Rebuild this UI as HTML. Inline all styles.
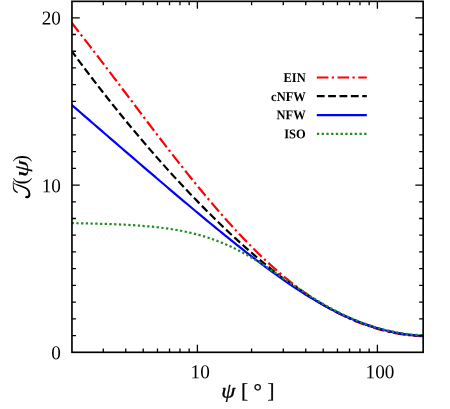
<!DOCTYPE html>
<html><head><meta charset="utf-8"><title>J(psi)</title>
<style>
html,body{margin:0;padding:0;background:#fff;}
body{width:450px;height:409px;overflow:hidden;}
svg{display:block;will-change:transform;}
text{font-family:"Liberation Serif",serif;fill:#000;}
.tk{font-size:19.6px;}
.lg{font-size:13.2px;font-weight:bold;text-anchor:end;}
.ax{font-size:21.0px;}
.psi{font-style:italic;stroke:#000;stroke-width:0.3;}
.cv{fill:none;stroke-width:2.2;stroke-linejoin:round;}
</style></head><body>
<svg width="450" height="409" viewBox="0 0 450 409">
<rect x="0" y="0" width="450" height="409" fill="#fff"/>
<defs><clipPath id="cp"><rect x="71.95" y="1.35" width="351.2" height="350.95"/></clipPath></defs>
<g clip-path="url(#cp)">
<path class="cv" d="M71.59,22.80 L74.54,26.53 L77.50,30.27 L80.45,34.04 L83.41,37.82 L86.37,41.62 L89.32,45.43 L92.28,49.26 L95.23,53.10 L98.19,56.95 L101.15,60.81 L104.10,64.68 L107.06,68.56 L110.01,72.45 L112.97,76.35 L115.93,80.25 L118.88,84.16 L121.84,88.07 L124.79,91.98 L127.75,95.90 L130.71,99.81 L133.66,103.73 L136.62,107.64 L139.57,111.55 L142.53,115.46 L145.49,119.36 L148.44,123.26 L151.40,127.15 L154.35,131.03 L157.31,134.90 L160.27,138.76 L163.22,142.61 L166.18,146.45 L169.13,150.27 L172.09,154.08 L175.05,157.87 L178.00,161.64 L180.96,165.39 L183.91,169.13 L186.87,172.84 L189.83,176.53 L192.78,180.20 L195.74,183.84 L198.69,187.46 L201.65,191.05 L204.61,194.62 L207.56,198.15 L210.52,201.66 L213.47,205.13 L216.43,208.58 L219.39,211.99 L222.34,215.36 L225.30,218.71 L228.25,222.01 L231.21,225.28 L234.17,228.52 L237.12,231.71 L240.08,234.87 L243.03,237.98 L245.99,241.06 L248.95,244.09 L251.90,247.08 L254.86,250.03 L257.81,252.93 L260.77,255.79 L263.73,258.61 L266.68,261.37 L269.64,264.10 L272.59,266.77 L275.55,269.40 L278.51,271.97 L281.46,274.50 L284.42,276.98 L287.37,279.41 L290.33,281.79 L293.29,284.12 L296.24,286.40 L299.20,288.63 L302.15,290.81 L305.11,292.93 L308.07,295.01 L311.02,297.03 L313.98,299.00 L316.93,300.92 L319.89,302.78 L322.85,304.60 L325.80,306.36 L328.76,308.07 L331.71,309.72 L334.67,311.33 L337.63,312.88 L340.58,314.39 L343.54,315.84 L346.49,317.24 L349.45,318.58 L352.41,319.88 L355.36,321.13 L358.32,322.33 L361.27,323.48 L364.23,324.58 L367.19,325.63 L370.14,326.63 L373.10,327.58 L376.05,328.49 L379.01,329.35 L381.97,330.15 L384.92,330.92 L387.88,331.63 L390.83,332.30 L393.79,332.91 L396.75,333.48 L399.70,334.00 L402.66,334.47 L405.61,334.89 L408.57,335.25 L411.53,335.56 L414.48,335.80 L417.44,335.99 L420.39,336.10 L423.35,336.14" stroke="#ff0000" stroke-dasharray="11.6 3.3 2.3 3.52"/>
<path class="cv" d="M71.59,50.94 L74.54,54.96 L77.50,58.94 L80.45,62.91 L83.41,66.85 L86.37,70.77 L89.32,74.66 L92.28,78.53 L95.23,82.38 L98.19,86.20 L101.15,90.00 L104.10,93.78 L107.06,97.54 L110.01,101.27 L112.97,104.98 L115.93,108.67 L118.88,112.33 L121.84,115.97 L124.79,119.59 L127.75,123.18 L130.71,126.76 L133.66,130.30 L136.62,133.83 L139.57,137.34 L142.53,140.82 L145.49,144.28 L148.44,147.71 L151.40,151.13 L154.35,154.52 L157.31,157.89 L160.27,161.23 L163.22,164.56 L166.18,167.86 L169.13,171.14 L172.09,174.39 L175.05,177.62 L178.00,180.83 L180.96,184.01 L183.91,187.18 L186.87,190.31 L189.83,193.43 L192.78,196.52 L195.74,199.59 L198.69,202.63 L201.65,205.65 L204.61,208.64 L207.56,211.61 L210.52,214.56 L213.47,217.48 L216.43,220.37 L219.39,223.24 L222.34,226.09 L225.30,228.90 L228.25,231.70 L231.21,234.46 L234.17,237.20 L237.12,239.91 L240.08,242.59 L243.03,245.25 L245.99,247.87 L248.95,250.47 L251.90,253.04 L254.86,255.58 L257.81,258.09 L260.77,260.56 L263.73,263.01 L266.68,265.43 L269.64,267.81 L272.59,270.16 L275.55,272.48 L278.51,274.76 L281.46,277.01 L284.42,279.23 L287.37,281.41 L290.33,283.55 L293.29,285.66 L296.24,287.73 L299.20,289.77 L302.15,291.76 L305.11,293.72 L308.07,295.64 L311.02,297.52 L313.98,299.35 L316.93,301.15 L319.89,302.91 L322.85,304.62 L325.80,306.29 L328.76,307.92 L331.71,309.51 L334.67,311.05 L337.63,312.55 L340.58,314.01 L343.54,315.42 L346.49,316.78 L349.45,318.10 L352.41,319.38 L355.36,320.61 L358.32,321.79 L361.27,322.93 L364.23,324.02 L367.19,325.07 L370.14,326.07 L373.10,327.03 L376.05,327.94 L379.01,328.80 L381.97,329.62 L384.92,330.39 L387.88,331.11 L390.83,331.78 L393.79,332.41 L396.75,332.99 L399.70,333.51 L402.66,333.99 L405.61,334.42 L408.57,334.79 L411.53,335.10 L414.48,335.35 L417.44,335.54 L420.39,335.66 L423.35,335.70" stroke="#000" stroke-dasharray="7.8 3.5" stroke-dashoffset="0.8"/>
<path class="cv" d="M71.59,104.82 L74.54,107.38 L77.50,109.94 L80.45,112.50 L83.41,115.06 L86.37,117.62 L89.32,120.18 L92.28,122.73 L95.23,125.29 L98.19,127.85 L101.15,130.40 L104.10,132.96 L107.06,135.51 L110.01,138.07 L112.97,140.62 L115.93,143.17 L118.88,145.72 L121.84,148.27 L124.79,150.81 L127.75,153.36 L130.71,155.90 L133.66,158.45 L136.62,160.99 L139.57,163.53 L142.53,166.06 L145.49,168.60 L148.44,171.13 L151.40,173.66 L154.35,176.19 L157.31,178.72 L160.27,181.24 L163.22,183.76 L166.18,186.27 L169.13,188.79 L172.09,191.30 L175.05,193.80 L178.00,196.30 L180.96,198.80 L183.91,201.30 L186.87,203.78 L189.83,206.27 L192.78,208.75 L195.74,211.22 L198.69,213.69 L201.65,216.15 L204.61,218.60 L207.56,221.05 L210.52,223.49 L213.47,225.92 L216.43,228.34 L219.39,230.76 L222.34,233.16 L225.30,235.56 L228.25,237.94 L231.21,240.32 L234.17,242.68 L237.12,245.03 L240.08,247.37 L243.03,249.70 L245.99,252.01 L248.95,254.31 L251.90,256.60 L254.86,258.86 L257.81,261.11 L260.77,263.35 L263.73,265.56 L266.68,267.76 L269.64,269.94 L272.59,272.09 L275.55,274.23 L278.51,276.34 L281.46,278.43 L284.42,280.49 L287.37,282.54 L290.33,284.55 L293.29,286.54 L296.24,288.50 L299.20,290.43 L302.15,292.33 L305.11,294.20 L308.07,296.04 L311.02,297.84 L313.98,299.61 L316.93,301.35 L319.89,303.05 L322.85,304.72 L325.80,306.35 L328.76,307.94 L331.71,309.50 L334.67,311.01 L337.63,312.49 L340.58,313.92 L343.54,315.31 L346.49,316.66 L349.45,317.97 L352.41,319.24 L355.36,320.46 L358.32,321.64 L361.27,322.77 L364.23,323.86 L367.19,324.91 L370.14,325.91 L373.10,326.87 L376.05,327.78 L379.01,328.64 L381.97,329.46 L384.92,330.23 L387.88,330.96 L390.83,331.64 L393.79,332.27 L396.75,332.85 L399.70,333.38 L402.66,333.86 L405.61,334.29 L408.57,334.66 L411.53,334.97 L414.48,335.23 L417.44,335.42 L420.39,335.53 L423.35,335.58" stroke="#0000ff"/>
<path class="cv" d="M71.59,223.17 L74.54,223.21 L77.50,223.26 L80.45,223.31 L83.41,223.36 L86.37,223.42 L89.32,223.48 L92.28,223.54 L95.23,223.62 L98.19,223.69 L101.15,223.78 L104.10,223.86 L107.06,223.96 L110.01,224.06 L112.97,224.17 L115.93,224.29 L118.88,224.42 L121.84,224.56 L124.79,224.71 L127.75,224.87 L130.71,225.04 L133.66,225.22 L136.62,225.42 L139.57,225.63 L142.53,225.86 L145.49,226.10 L148.44,226.36 L151.40,226.64 L154.35,226.95 L157.31,227.27 L160.27,227.61 L163.22,227.98 L166.18,228.38 L169.13,228.80 L172.09,229.25 L175.05,229.73 L178.00,230.25 L180.96,230.79 L183.91,231.37 L186.87,231.99 L189.83,232.65 L192.78,233.35 L195.74,234.10 L198.69,234.88 L201.65,235.71 L204.61,236.59 L207.56,237.52 L210.52,238.50 L213.47,239.53 L216.43,240.61 L219.39,241.75 L222.34,242.94 L225.30,244.19 L228.25,245.49 L231.21,246.85 L234.17,248.26 L237.12,249.72 L240.08,251.24 L243.03,252.81 L245.99,254.44 L248.95,256.11 L251.90,257.82 L254.86,259.59 L257.81,261.39 L260.77,263.23 L263.73,265.10 L266.68,267.01 L269.64,268.94 L272.59,270.90 L275.55,272.88 L278.51,274.87 L281.46,276.87 L284.42,278.88 L287.37,280.89 L290.33,282.90 L293.29,284.90 L296.24,286.89 L299.20,288.87 L302.15,290.83 L305.11,292.77 L308.07,294.68 L311.02,296.57 L313.98,298.42 L316.93,300.24 L319.89,302.02 L322.85,303.77 L325.80,305.48 L328.76,307.14 L331.71,308.76 L334.67,310.34 L337.63,311.87 L340.58,313.36 L343.54,314.79 L346.49,316.18 L349.45,317.53 L352.41,318.82 L355.36,320.06 L358.32,321.26 L361.27,322.41 L364.23,323.50 L367.19,324.55 L370.14,325.56 L373.10,326.51 L376.05,327.41 L379.01,328.27 L381.97,329.08 L384.92,329.84 L387.88,330.56 L390.83,331.23 L393.79,331.85 L396.75,332.42 L399.70,332.94 L402.66,333.41 L405.61,333.82 L408.57,334.19 L411.53,334.49 L414.48,334.74 L417.44,334.93 L420.39,335.04 L423.35,335.08" stroke="#228b22" stroke-dasharray="2.3 2.43"/>
</g>
<path d="M103.28,352.3 v-3.8 M103.28,1.35 v3.8 M125.77,352.3 v-3.8 M125.77,1.35 v3.8 M143.21,352.3 v-3.8 M143.21,1.35 v3.8 M157.47,352.3 v-3.8 M157.47,1.35 v3.8 M169.52,352.3 v-3.8 M169.52,1.35 v3.8 M179.96,352.3 v-3.8 M179.96,1.35 v3.8 M189.16,352.3 v-3.8 M189.16,1.35 v3.8 M197.40,352.3 v-7.5 M197.40,1.35 v7.5 M251.59,352.3 v-3.8 M251.59,1.35 v3.8 M283.28,352.3 v-3.8 M283.28,1.35 v3.8 M305.77,352.3 v-3.8 M305.77,1.35 v3.8 M323.21,352.3 v-3.8 M323.21,1.35 v3.8 M337.47,352.3 v-3.8 M337.47,1.35 v3.8 M349.52,352.3 v-3.8 M349.52,1.35 v3.8 M359.96,352.3 v-3.8 M359.96,1.35 v3.8 M369.16,352.3 v-3.8 M369.16,1.35 v3.8 M377.40,352.3 v-7.5 M377.40,1.35 v7.5 M71.95,335.57 h4.0 M423.15,335.57 h-4.0 M71.95,318.85 h4.0 M423.15,318.85 h-4.0 M71.95,302.12 h4.0 M423.15,302.12 h-4.0 M71.95,285.40 h4.0 M423.15,285.40 h-4.0 M71.95,268.68 h4.0 M423.15,268.68 h-4.0 M71.95,251.95 h4.0 M423.15,251.95 h-4.0 M71.95,235.22 h4.0 M423.15,235.22 h-4.0 M71.95,218.50 h4.0 M423.15,218.50 h-4.0 M71.95,201.78 h4.0 M423.15,201.78 h-4.0 M71.95,185.05 h7.8 M423.15,185.05 h-7.8 M71.95,168.32 h4.0 M423.15,168.32 h-4.0 M71.95,151.60 h4.0 M423.15,151.60 h-4.0 M71.95,134.88 h4.0 M423.15,134.88 h-4.0 M71.95,118.15 h4.0 M423.15,118.15 h-4.0 M71.95,101.42 h4.0 M423.15,101.42 h-4.0 M71.95,84.70 h4.0 M423.15,84.70 h-4.0 M71.95,67.97 h4.0 M423.15,67.97 h-4.0 M71.95,51.25 h4.0 M423.15,51.25 h-4.0 M71.95,34.52 h4.0 M423.15,34.52 h-4.0 M71.95,17.80 h7.8 M423.15,17.80 h-7.8" fill="none" stroke="#000" stroke-width="1.3"/>
<rect x="71.95" y="1.35" width="351.2" height="350.95" fill="none" stroke="#000" stroke-width="1.65"/>
<!-- legend -->
<g class="cv">
<path d="M316.8,77.5 H366.8" stroke="#ff0000" stroke-dasharray="11.6 3.3 2.3 3.52"/>
<path d="M316.8,96.2 H366.8" stroke="#000" stroke-dasharray="7.8 3.55"/>
<path d="M316.8,115.1 H366.8" stroke="#0000ff"/>
<path d="M316.9,133.8 H366.8" stroke="#228b22" stroke-dasharray="2.3 2.43"/>
</g>
<text class="lg" transform="translate(305.7,82.0) scale(0.945,1) rotate(0.03)">EIN</text>
<text class="lg" transform="translate(305.7,101.0) scale(0.945,1) rotate(0.03)">cNFW</text>
<text class="lg" transform="translate(305.7,119.3) scale(0.945,1) rotate(0.03)">NFW</text>
<text class="lg" transform="translate(305.7,138.2) scale(0.945,1) rotate(0.03)">ISO</text>
<!-- tick labels -->
<text class="tk" transform="translate(60.9,24.5) scale(0.98,1) rotate(0.03)" text-anchor="end">20</text>
<text class="tk" transform="translate(60.9,192.2) scale(0.98,1) rotate(0.03)" text-anchor="end">10</text>
<text class="tk" transform="translate(60.9,359.2) scale(0.98,1) rotate(0.03)" text-anchor="end">0</text>
<text class="tk" transform="translate(200.2,378.3) scale(0.98,1) rotate(0.03)" text-anchor="middle">10</text>
<text class="tk" transform="translate(380.0,378.3) scale(0.98,1) rotate(0.03)" text-anchor="middle">100</text>
<!-- x label -->
<text class="ax psi" transform="translate(221.2,397.6) scale(1.08,0.99) rotate(0.03)" font-size="21.5">ψ</text>
<text class="ax" stroke="#000" stroke-width="0.25" transform="translate(241.1,397.8) rotate(0.03)" font-size="20.3">[</text>
<text class="ax" stroke="#000" stroke-width="0.3" transform="translate(253.5,398.0) rotate(0.03)" font-size="22.6">°</text>
<text class="ax" stroke="#000" stroke-width="0.25" transform="translate(267.5,397.8) rotate(0.03)" font-size="20.3">]</text>
<!-- y label -->
<path d="M13.55,183.61 L14.15,183.94 L14.75,184.25 L15.36,184.55 L15.98,184.85 L16.59,185.13 L17.21,185.41 L17.84,185.68 L18.46,185.94 L19.09,186.19 L19.72,186.44 L20.34,186.68 L20.97,186.92 L21.59,187.16 L22.21,187.41 L22.82,187.65 L23.43,187.91 L24.02,188.18 L24.60,188.46 L25.16,188.76 L25.68,189.09 L26.17,189.45 L26.63,189.84 L27.04,190.27 L27.40,190.73 L27.70,191.22 L27.94,191.73 L28.12,192.28 L28.25,192.86 L28.32,193.46 L28.34,194.06 L28.29,194.61 L28.17,195.08 L27.97,195.49 L27.73,195.80 L27.51,195.96 L27.28,196.03 L26.92,196.04 L26.52,195.96 L26.17,195.83 L24.83,197.17 L25.56,197.82 L26.47,198.20 L27.49,198.30 L28.55,198.01 L29.40,197.35 L29.95,196.53 L30.25,195.65 L30.37,194.79 L30.34,193.98 L30.24,193.22 L30.10,192.48 L29.89,191.75 L29.62,191.03 L29.27,190.33 L28.84,189.69 L28.34,189.10 L27.79,188.57 L27.21,188.09 L26.60,187.67 L25.97,187.31 L25.33,186.99 L24.68,186.70 L24.04,186.43 L23.39,186.19 L22.75,185.96 L22.11,185.74 L21.46,185.53 L20.82,185.32 L20.18,185.12 L19.53,184.93 L18.89,184.73 L18.25,184.53 L17.62,184.34 L16.98,184.13 L16.35,183.92 L15.72,183.70 L15.09,183.48 L14.47,183.24 L13.85,182.99Z" fill="#000"/>
<path d="M13.10,180.86 L13.01,181.46 L12.93,182.06 L12.88,182.65 L12.84,183.25 L12.83,183.85 L12.82,184.44 L12.83,185.04 L12.85,185.64 L12.88,186.24 L12.92,186.84 L12.95,187.45 L13.01,188.07 L13.10,188.70 L13.25,189.33 L13.49,189.96 L13.82,190.55 L14.23,191.09 L14.70,191.58 L15.23,192.00 L15.81,192.35 L16.41,192.63 L17.04,192.83 L17.68,192.94 L17.92,191.86 L17.44,191.65 L16.97,191.41 L16.52,191.13 L16.08,190.83 L15.67,190.50 L15.29,190.14 L14.95,189.75 L14.66,189.34 L14.42,188.90 L14.23,188.41 L14.07,187.88 L13.94,187.32 L13.84,186.74 L13.75,186.16 L13.68,185.58 L13.63,185.00 L13.59,184.42 L13.57,183.84 L13.57,183.27 L13.58,182.69 L13.60,182.11 L13.64,181.53 L13.70,180.94Z" fill="#000"/>
<g transform="translate(27.4,198.5) rotate(-90)">
<text class="ax" transform="translate(14.1,0) rotate(0.03)">(</text>
<text class="ax psi" transform="translate(21.4,0.6) scale(1.29,0.93) rotate(0.03)" font-size="23" style="stroke-width:0.18">ψ</text>
<text class="ax" transform="translate(36.4,0) rotate(0.03)">)</text>
</g>
</svg>
</body></html>
